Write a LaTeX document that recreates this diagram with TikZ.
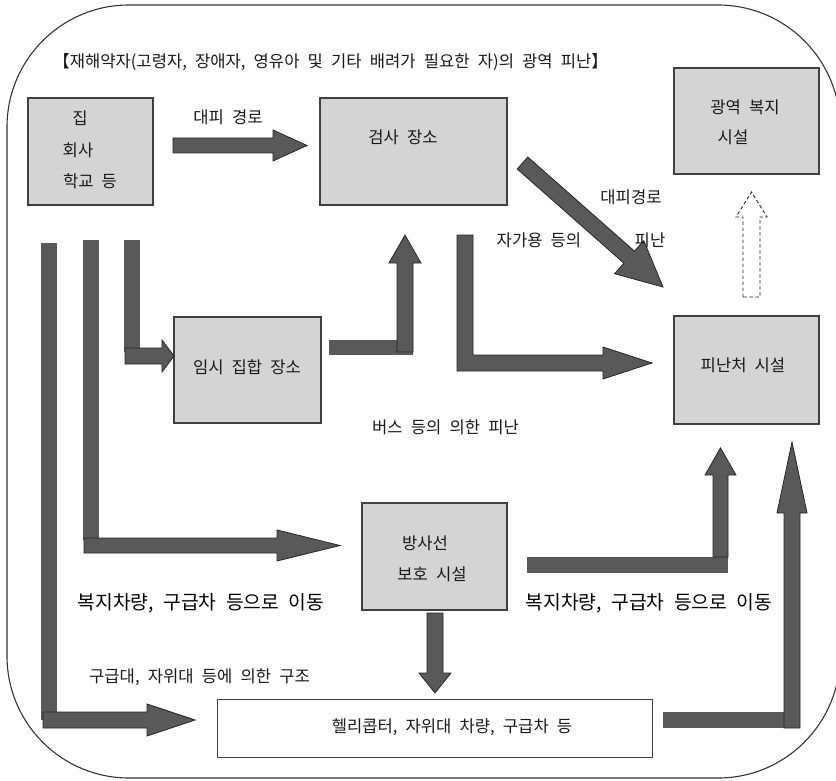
\documentclass[tikz,border=0pt]{standalone}
\usepackage{fontspec}
\setmainfont{Noto Sans CJK KR}[WordSpace=2.2]
\begin{document}
\begin{tikzpicture}[x=1pt,y=-1pt,
  box/.style={draw=black!75, line width=1.3pt, fill=black!17, inner sep=0pt},
  wbox/.style={draw=black!75, line width=1pt, fill=white, inner sep=0pt},
  arr/.style={fill=black!65, draw=black!85, line width=0.8pt, line join=miter},
  bar/.style={fill=black!65},
  hollow/.style={draw=black!85, dash pattern=on 3.5pt off 2.5pt, line width=0.9pt, fill=white},
  lbl/.style={inner sep=0pt, font=\fontsize{16.6}{19}\selectfont, text=black!90},
  big/.style={inner sep=0pt, font=\fontsize{19.3}{23}\selectfont, text=black},
]
\useasboundingbox (0,0) rectangle (836,781);

% outer frame
\draw[black!80, line width=1.1pt, rounded corners=122pt] (7,5) rectangle (840,778);

% boxes
\node[box, minimum width=125, minimum height=107] (home) at (90.5,151.5) {};
\node[box, minimum width=187, minimum height=107] (check) at (413.5,151.5) {};
\node[box, minimum width=145, minimum height=106] (welfare) at (746.5,121) {};
\node[box, minimum width=147, minimum height=106] (temp) at (247.5,370) {};
\node[box, minimum width=145, minimum height=108] (shelter) at (746.5,370) {};
\node[box, minimum width=145, minimum height=107] (rad) at (434.5,556.5) {};
\node[wbox, minimum width=435, minimum height=58] (heli) at (434.5,728) {};

% home -> check
\filldraw[arr] (173,138) -- (273,138) -- (273,130) -- (307,145.5) -- (273,161) -- (273,153) -- (173,153) -- cycle;

% check -> shelter (diagonal)
\filldraw[arr] (527.8,157) -- (634.5,251.2) -- (643.8,240.7) -- (663,287) -- (614.6,273.7) -- (623.9,263.2) -- (517.2,169) -- cycle;

% shelter -> welfare (dashed, hollow)
\filldraw[hollow] (743,297) -- (743,217) -- (736,217) -- (751.5,192) -- (767,217) -- (760,217) -- (760,297) -- cycle;

% own car route into shelter
\filldraw[arr] (457,235) -- (473,235) -- (473,355) -- (603,355) -- (603,347) -- (652,363) -- (603,379) -- (603,371) -- (457,371) -- cycle;

% temporary gathering place -> check
\fill[bar] (329,340) rectangle (413,355);
\filldraw[arr] (397,352) -- (397,263) -- (389,263) -- (405,235) -- (421,263) -- (413,263) -- (413,352) -- cycle;

% three vertical routes from home
\fill[bar] (41,243) rectangle (57,720);
\fill[bar] (83,240) rectangle (99,540);
\fill[bar] (124,240) rectangle (140,352);
\filldraw[arr] (125,348) -- (162,348) -- (162,340) -- (174,356) -- (162,372) -- (162,364) -- (125,364) -- cycle;
\filldraw[arr] (84,538) -- (277,538) -- (277,530) -- (340,545.5) -- (277,561) -- (277,553) -- (84,553) -- cycle;
\filldraw[arr] (43,712) -- (147,712) -- (147,704) -- (195,720) -- (147,736) -- (147,728) -- (43,728) -- cycle;

% rad -> heli
\filldraw[arr] (427,613) -- (443,613) -- (443,673) -- (451,673) -- (435,693) -- (419,673) -- (427,673) -- cycle;

% rad -> shelter
\fill[bar] (527,557) rectangle (728,573);
\filldraw[arr] (713,557) -- (713,475) -- (705,475) -- (720.5,448) -- (736,475) -- (728,475) -- (728,557) -- cycle;

% heli -> shelter
\fill[bar] (663,712) rectangle (800,728);
\filldraw[arr] (784,728) -- (784,513) -- (777,513) -- (792,442) -- (807,513) -- (800,513) -- (800,728) -- cycle;

% texts
\node[lbl, anchor=west] (title) at (53,62) {【재해약자(고령자, 장애자, 영유아 및 기타 배려가 필요한 자)의 광역 피난】};
\node[lbl] (t1) at (80,118) {집};
\node[lbl] (t2) at (78,150) {회사};
\node[lbl] (t3) at (90,181) {학교 등};
\node[lbl] (t4) at (228,117) {대피 경로};
\node[lbl] (t5) at (403,137) {검사 장소};
\node[lbl] (t6) at (745,107) {광역 복지};
\node[lbl] (t7) at (733,137) {시설};
\node[lbl] (t8) at (631,197) {대피경로};
\node[lbl] (t9) at (539,240) {자가용 등의};
\node[lbl] (t10) at (650,240) {피난};
\node[lbl] (t11) at (247,367) {임시 집합 장소};
\node[lbl] (t12) at (743,365) {피난처 시설};
\node[lbl] (t13) at (445.5,427) {버스 등의 의한 피난};
\node[lbl] (t14) at (425,543) {방사선};
\node[lbl] (t15) at (432,574) {보호 시설};
\node[big] (t16) at (201,603) {복지차량, 구급차 등으로 이동};
\node[big] (t17) at (649,603) {복지차량, 구급차 등으로 이동};
\node[lbl] (t18) at (199.5,677) {구급대, 자위대 등에 의한 구조};
\node[lbl] (t19) at (452,727) {헬리콥터, 자위대 차량, 구급차 등};
\end{tikzpicture}
\end{document}
